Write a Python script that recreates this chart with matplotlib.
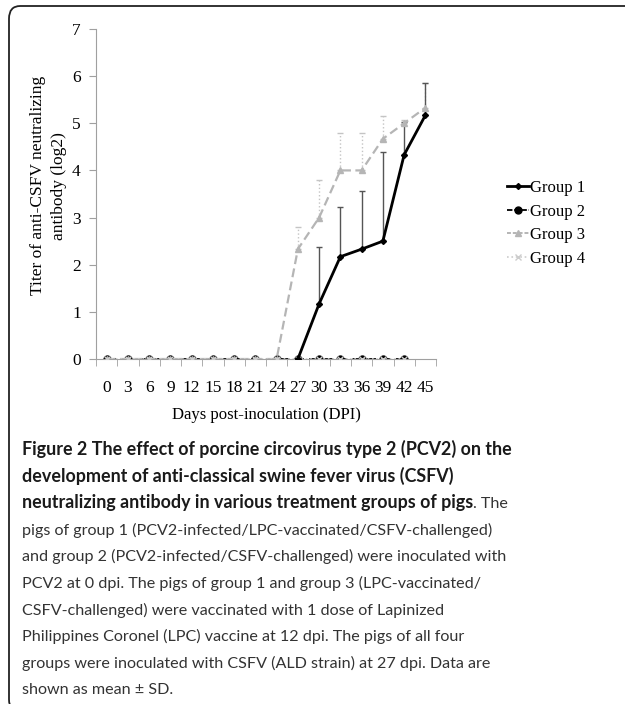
import numpy as np
import matplotlib
matplotlib.use("Agg")
import matplotlib.pyplot as plt
from matplotlib.patches import FancyBboxPatch
from matplotlib.lines import Line2D

nan = np.nan
days = [0, 3, 6, 9, 12, 15, 18, 21, 24, 27, 30, 33, 36, 39, 42, 45]
group1 = [nan] * 9 + [0, 1.17, 2.17, 2.33, 2.5, 4.33, 5.17]
group1_sd = [nan] * 9 + [0, 1.21, 1.06, 1.24, 1.9, 0.7, 0.68]
group2 = [0] * 15 + [nan]
group3 = [0] * 9 + [2.33, 3.0, 4.0, 4.0, 4.67, 5.0, 5.33]
group3_sd = [nan] * 9 + [0.47, 0.8, 0.8, 0.8, 0.48, 0.07, 0.52]
group4 = [0] * 15 + [nan]
labels = ["Group 1", "Group 2", "Group 3", "Group 4"]

serif = "Liberation Serif"
W, H = 625, 704
fig = plt.figure(figsize=(W / 100, H / 100), dpi=100)

# rounded frame around figure
frame = FancyBboxPatch((9 / W, 1 - 712 / H), 700 / W, 706 / H,
                       boxstyle="round,pad=0,rounding_size=0.018",
                       transform=fig.transFigure, fill=False,
                       edgecolor="#222222", linewidth=1.3, clip_on=False)
fig.patches.append(frame)

ax = fig.add_axes([96 / W, 1 - 359 / H, 340 / W, 330 / H])
x = np.arange(len(days))

# error bars (upper only)
g3 = np.array(group3, dtype=float)
e3 = np.array(group3_sd, dtype=float)
eb3 = ax.errorbar(x, g3, yerr=[np.zeros_like(e3), e3], fmt="none",
                  ecolor="#c4c4c4", elinewidth=1, capsize=2, zorder=1)
eb3[2][0].set_linestyle(":")
g1 = np.array(group1, dtype=float)
e1 = np.array(group1_sd, dtype=float)
ax.errorbar(x, g1, yerr=[np.zeros_like(e1), e1], fmt="none",
            ecolor="#555555", elinewidth=1, capsize=2, zorder=1)

ax.plot(x, group2, color="black", ls=(0, (5, 3)), lw=1.3, marker="o",
        ms=5, zorder=2)
ax.plot(x, group3, color="#b5b5b5", ls=(0, (4, 2)), lw=1.6, marker="^",
        ms=5, zorder=3)
ax.plot(x, group4, color="#cccccc", ls=":", lw=1.2, marker="x", ms=4,
        zorder=4)
ax.plot(x, group1, color="black", lw=2, marker="D", ms=3, zorder=5)

ax.set_xlim(-0.5, len(days) - 0.5)
ax.set_ylim(0, 7)
ax.set_yticks(range(8))
ax.set_xticks(x)
ax.set_xticklabels([str(d) for d in days])
ax.set_xticks(np.arange(-0.5, len(days), 1), minor=True)
ax.tick_params(axis="x", which="major", length=0, pad=15)
ax.tick_params(axis="x", which="minor", length=5, color="#a0a0a0")
ax.tick_params(axis="y", length=5, color="#a0a0a0", pad=6)
for lab in ax.get_xticklabels() + ax.get_yticklabels():
    lab.set_fontfamily(serif)
    lab.set_fontsize(12.5)
for s in ["top", "right"]:
    ax.spines[s].set_visible(False)
for s in ["left", "bottom"]:
    ax.spines[s].set_color("#a0a0a0")
ax.set_xlabel("Days post-inoculation (DPI)", fontfamily=serif, fontsize=12,
              labelpad=8)
ax.set_ylabel("Titer of anti-CSFV neutralizing\nantibody (log2)",
              fontfamily=serif, fontsize=12.5, linespacing=1.45)
ax.yaxis.set_label_coords(-0.085, 0.525)

handles = [
    Line2D([], [], color="black", lw=2, marker="D", ms=3),
    Line2D([], [], color="black", ls=(0, (3, 1)), lw=1.3, marker="o", ms=5),
    Line2D([], [], color="#b5b5b5", ls=(0, (2, 1)), lw=1.4, marker="^", ms=5),
    Line2D([], [], color="#cccccc", ls=":", lw=1.2, marker="x", ms=4),
]
fig.legend(handles, labels, loc="upper left",
           bbox_to_anchor=(492 / W, 1 - 165 / H), frameon=False,
           handlelength=1.3, handletextpad=0.1, labelspacing=0.45,
           prop={"family": serif, "size": 12})

# caption
bold_lines = ["Figure 2 The effect of porcine circovirus type 2 (PCV2) on the",
              "development of anti-classical swine fever virus (CSFV)",
              "neutralizing antibody in various treatment groups of pigs"]
tail = ". The"
reg_lines = ["pigs of group 1 (PCV2-infected/LPC-vaccinated/CSFV-challenged)",
             "and group 2 (PCV2-infected/CSFV-challenged) were inoculated with",
             "PCV2 at 0 dpi. The pigs of group 1 and group 3 (LPC-vaccinated/",
             "CSFV-challenged) were vaccinated with 1 dose of Lapinized",
             "Philippines Coronel (LPC) vaccine at 12 dpi. The pigs of all four",
             "groups were inoculated with CSFV (ALD strain) at 27 dpi. Data are",
             "shown as mean \u00b1 SD."]
cap_font = "Lato"
x0 = 22 / W
y_base = 455
step = 26.6
renderer = fig.canvas.get_renderer()
for i, line in enumerate(bold_lines):
    t = fig.text(x0, 1 - (y_base + i * step) / H, line, fontfamily=cap_font,
                 fontweight="bold", fontsize=12.9, color="#1a1a1a",
                 va="baseline", ha="left")
last = t
bb = last.get_window_extent(renderer)
fig.text(bb.x1 / W, 1 - (y_base + 2 * step) / H, tail, fontfamily=cap_font,
         fontsize=11.6, color="#333333", va="baseline", ha="left")
for i, line in enumerate(reg_lines):
    fig.text(x0, 1 - (y_base + (i + 3) * step) / H, line, fontfamily=cap_font,
             fontsize=11.6, color="#333333", va="baseline", ha="left")

fig.savefig("out.png", dpi=100)
